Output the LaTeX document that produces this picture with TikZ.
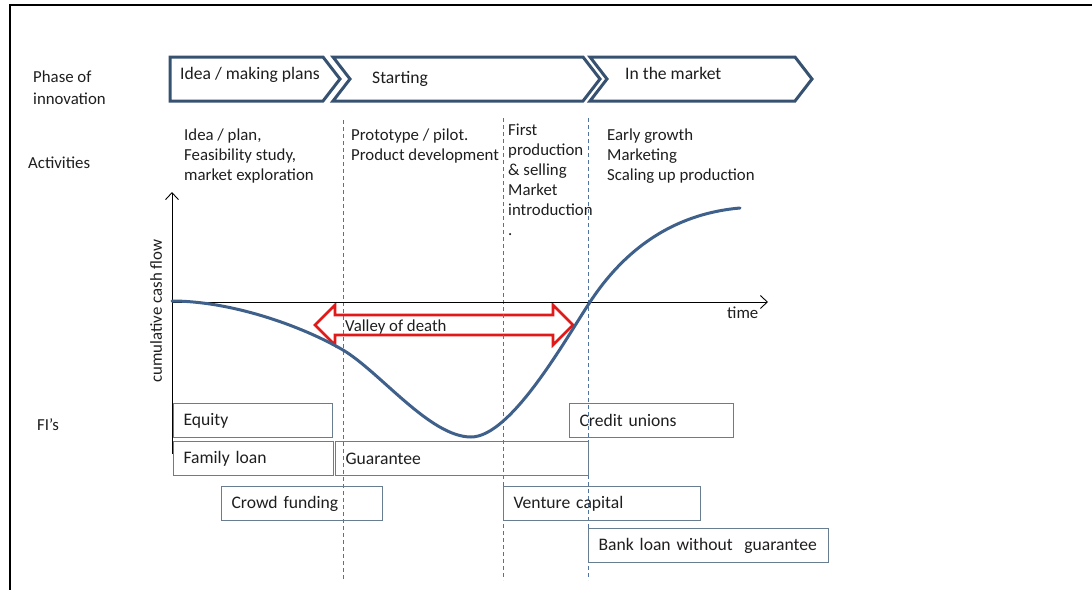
\documentclass[tikz,border=0pt]{standalone}
\usepackage{fontspec}
\setmainfont{Carlito}
\usetikzlibrary{arrows.meta}
\definecolor{chev}{RGB}{55,82,112}
\definecolor{curveblue}{RGB}{62,96,138}
\definecolor{dashblue}{RGB}{80,115,160}
\definecolor{boxgray}{RGB}{105,125,145}
\definecolor{vred}{RGB}{225,25,25}
\definecolor{txt}{RGB}{30,30,30}
\begin{document}
\begin{tikzpicture}[x=1pt,y=-1pt,
  every node/.style={font=\fontsize{16.8}{20}\selectfont, text=txt},
  bigtext/.style={font=\fontsize{17.6}{20}\selectfont},
  chevron/.style={draw=chev, line width=3pt, fill=white, line join=miter},
  lbl/.style={anchor=north west, inner sep=0pt, align=left},
  fibox/.style={draw=boxgray, line width=1.2pt, anchor=north west, minimum height=34pt, inner xsep=10pt, inner ysep=0pt, align=left, bigtext},
  vdash/.style={draw=dashblue, line width=0.7pt, dash pattern=on 4pt off 3pt},
  axis/.style={draw=black, line width=0.9pt},
  axtip/.style={-{Straight Barb[length=7pt,width=13pt]}},
  cash/.style={draw=curveblue, line width=3pt, line cap=round},
  valley/.style={draw=vred, line width=2.6pt, line join=miter}
]
\useasboundingbox (0,0) rectangle (1092,590);
% frame
\coordinate (fr1) at (1092,5);
\coordinate (fr2) at (10,5);
\coordinate (fr3) at (10,590);
\draw[line width=2.2pt] (fr1) -- (fr2) -- (fr3);

% chevrons
\draw[chevron] (170,57) -- (323,57) -- (340,79) -- (323,101) -- (170,101) -- cycle;
\draw[chevron] (333,57) -- (583,57) -- (600,79) -- (583,101) -- (333,101) -- (350,79) -- cycle;
\draw[chevron] (590,57) -- (795,57) -- (812,79) -- (795,101) -- (590,101) -- (607,79) -- cycle;
\node[lbl, bigtext] (ph1) at (180,67) {Idea / making plans};
\node[lbl, bigtext] (ph2) at (372,71) {Starting};
\node[lbl, bigtext] (ph3) at (625,67) {In the market};

% row labels
\node[lbl] (rphase) at (33,71) {Phase of\\[2pt]innovation};
\node[lbl] (ract) at (28,157) {Activities};
\node[lbl] (rfi) at (37,418) {FI’s};

% activities
\node[lbl] (a1) at (184,129) {Idea / plan,\\Feasibility study,\\market exploration};
\node[lbl] (a2) at (351,129) {Prototype / pilot.\\Product development};
\node[lbl] (a3) at (508,124) {First\\production\\\& selling\\Market\\introduction\\.};
\node[lbl] (a4) at (607,129) {Early growth\\Marketing\\Scaling up production};

% valley of death arrow
\draw[valley] (315,325) -- (335,305) -- (335,315) -- (553,315) -- (553,305) -- (573,325)
  -- (553,345) -- (553,335) -- (335,335) -- (335,345) -- cycle;
\node[anchor=base west, inner sep=0pt] (vod) at (345,331) {Valley of death};

% dashed phase separators
\coordinate (d1t) at (343,120); \coordinate (d1b) at (343,580);
\coordinate (d2t) at (503,118); \coordinate (d2b) at (503,580);
\coordinate (d3t) at (588,118); \coordinate (d3b) at (588,580);
\draw[vdash] (d1t) -- (d1b);
\draw[vdash] (d2t) -- (d2b);
\draw[vdash] (d3t) -- (d3b);

% axes
\coordinate (ybot) at (172,454);
\coordinate (ytop) at (172,192);
\coordinate (orig) at (172,302);
\coordinate (xend) at (768,302);
\draw[axis, axtip] (ybot) -- (ytop);
\draw[axis, axtip] (orig) -- (xend);
\node[anchor=base west, inner sep=0pt] (time) at (727,318) {time};
\node[rotate=90, inner sep=0pt] (ylab) at (156,311) {cumulative cash flow};

% cash flow curve
\draw[cash] (172,301) .. controls (230,301) and (300,325) .. (343,350)
  .. controls (380,372) and (430,437) .. (471,437)
  .. controls (511,437) and (565,340) .. (590,302)
  .. controls (615,264) and (660,215) .. (740,208);

% financial instruments
\node[fibox, text width=139pt] (equity) at (173,403) {Equity};
\node[fibox, text width=140pt] (family) at (173,441) {Family loan};
\node[fibox, text width=233pt] (guar) at (335,441) {Guarantee};
\node[fibox, text width=141pt] (crowd) at (221,486) {Crowd funding};
\node[fibox, text width=144pt] (credit) at (569,403) {Credit unions};
\node[fibox, text width=177pt] (venture) at (503,486) {Venture capital};
\node[fibox, text width=220pt] (bank) at (588,528) {Bank loan without\ \ guarantee};
\end{tikzpicture}
\end{document}
